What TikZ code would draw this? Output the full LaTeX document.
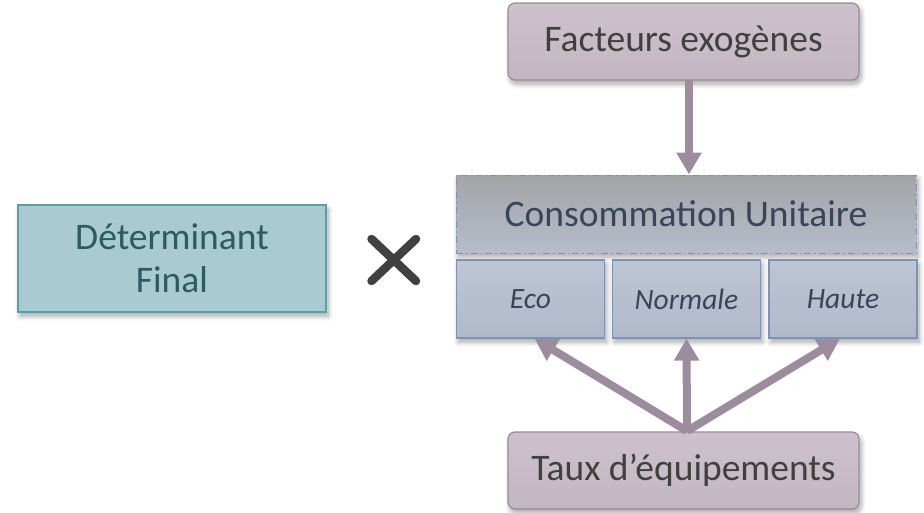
\documentclass[tikz,border=0pt]{standalone}
\usepackage{fontspec}
\setmainfont{Carlito}
\usetikzlibrary{arrows.meta,shadows,shadows.blur}

\definecolor{mauvefill}{HTML}{CDC2CB}
\definecolor{mauvefillb}{HTML}{C3B7C1}
\definecolor{mauveline}{HTML}{9A8B9A}
\definecolor{arrowcol}{HTML}{9C8C9E}
\definecolor{grayfilltop}{HTML}{A4A4A7}
\definecolor{grayfillbot}{HTML}{B6BCCB}
\definecolor{blueline}{HTML}{7F92B4}
\definecolor{bluefilltop}{HTML}{BEC6D5}
\definecolor{bluefillbot}{HTML}{B0B9CA}
\definecolor{bluetext}{HTML}{3A4558}
\definecolor{tealfill}{HTML}{A8CAD0}
\definecolor{tealline}{HTML}{5B9EA8}
\definecolor{tealtext}{HTML}{2E5A62}
\definecolor{darktext}{HTML}{404040}

\tikzset{
  softshadow/.style={blur shadow={shadow xshift=2pt,shadow yshift=-4pt,
    shadow blur radius=5pt,shadow blur steps=8,shadow opacity=35}},
  mauvebox/.style={rectangle,rounded corners=7pt,draw=mauveline,line width=1.2pt,
    top color=mauvefill,bottom color=mauvefillb,softshadow,
    minimum width=351pt,minimum height=77pt,inner sep=0pt,
    text=darktext,font=\fontsize{37.5}{44}\selectfont},
  bigbox/.style={rectangle,draw=blueline,line width=1pt,
    dash pattern=on 7pt off 3pt on 1.5pt off 3pt,
    top color=grayfilltop,bottom color=grayfillbot,softshadow,
    minimum width=460pt,minimum height=78pt,inner sep=0pt,
    text=bluetext,font=\fontsize{37.5}{44}\selectfont},
  levelbox/.style={rectangle,draw=blueline,line width=1.2pt,
    top color=bluefilltop,bottom color=bluefillbot,softshadow,
    minimum width=148pt,minimum height=78pt,inner sep=0pt,
    text=bluetext,font=\fontsize{29.5}{35}\selectfont\itshape},
  tealbox/.style={rectangle,draw=tealline,line width=1.2pt,fill=tealfill,softshadow,
    minimum width=308pt,minimum height=107pt,inner sep=0pt,align=center,
    text=tealtext,font=\fontsize{37.5}{43}\selectfont},
  flow/.style={draw=arrowcol,line width=8pt,
    -{Triangle[width=24pt,length=22pt]}},
  crossline/.style={draw=darktext,line width=8.5pt,line cap=round}
}

\begin{document}
\begin{tikzpicture}[x=1pt,y=-1pt]
  \useasboundingbox (0,0) rectangle (924,512);

  % boxes
  \node[mauvebox] (fact) at (683.5,41.5) {Facteurs exogènes};
  \node[bigbox] (conso) at (686,214) {Consommation Unitaire};
  \node[levelbox] (eco) at (530.5,299) {Eco};
  \node[levelbox] (norm) at (686.5,299) {Normale};
  \node[levelbox] (haute) at (843,299) {Haute};
  \node[mauvebox] (taux) at (683.5,470.5) {Taux d’équipements};
  \node[tealbox] (det) at (172,258.5) {Déterminant\\Final};

  % multiplication sign
  \coordinate (xa) at (371.5,239);
  \coordinate (xb) at (416,281);
  \coordinate (xc) at (416,239);
  \coordinate (xd) at (371.5,281);
  \draw[crossline] (xa) -- (xb);
  \draw[crossline] (xc) -- (xd);

  % arrows
  \coordinate (top) at (689,80);
  \coordinate (src) at (687,431);
  \draw[flow] (top) -- (top |- conso.north);
  \draw[flow] (src) -- (norm.south);
  \draw[flow] (src) -- ([xshift=4pt]eco.south);
  \draw[flow] (src) -- ([xshift=-3pt]haute.south);
\end{tikzpicture}
\end{document}
